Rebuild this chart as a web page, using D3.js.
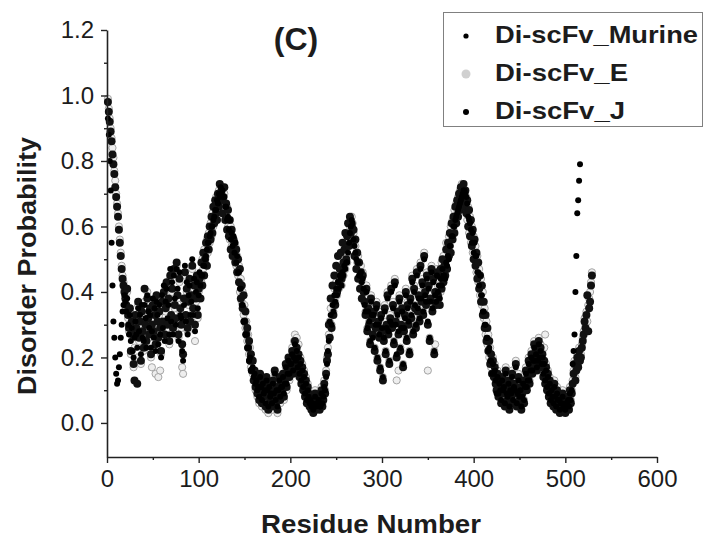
<!DOCTYPE html>
<html><head><meta charset="utf-8">
<script src="https://cdn.jsdelivr.net/npm/d3@7"></script>
<style>body{margin:0;background:#fff} svg{display:block}</style>
</head><body>
<svg id="c" width="705" height="538"></svg>
<script>
const seriesNames = ["Di-scFv_Murine", "Di-scFv_E", "Di-scFv_J"];
const xTicks = [0, 100, 200, 300, 400, 500, 600];
const xMinor = [50, 150, 250, 350, 450, 550];
const yTicks = [0, 0.2, 0.4, 0.6, 0.8, 1.0, 1.2];
const yMinor = [0.1, 0.3, 0.5, 0.7, 0.9, 1.1];

// Disorder probability per residue (residue number = index + 1)
const murine = [
.93,.88,.80,.71,.55,.42,.31,.26,.20,.15,
.12,.13,.17,.21,.26,.30,.34,.36,.39,.37,
.34,.38,.30,.27,.33,.25,.29,.22,.20,.26,
.31,.27,.23,.35,.28,.33,.21,.36,.26,.25,
.36,.32,.23,.39,.34,.29,.33,.23,.28,.38,
.26,.35,.22,.37,.33,.24,.36,.27,.20,.39,
.29,.42,.25,.37,.41,.32,.36,.27,.47,.31,
.43,.27,.45,.38,.30,.47,.41,.25,.46,.33,
.32,.22,.19,.36,.48,.31,.43,.27,.39,.42,
.33,.37,.50,.33,.44,.28,.40,.43,.35,.39,
.46,.42,.45,.45,.48,.48,.50,.51,.53,.55,
.55,.57,.58,.60,.60,.62,.63,.65,.65,.68,
.67,.70,.69,.72,.70,.71,.69,.69,.66,.66,
.62,.63,.59,.62,.56,.58,.54,.57,.52,.55,
.49,.51,.46,.46,.41,.41,.36,.36,.31,.31,
.27,.27,.23,.23,.19,.20,.16,.16,.17,.14,
.15,.12,.13,.10,.11,.08,.14,.11,.07,.12,
.09,.10,.06,.13,.10,.05,.11,.08,.09,.06,
.12,.09,.15,.07,.10,.05,.10,.13,.08,.11,
.11,.14,.09,.12,.17,.12,.15,.19,.15,.18,
.18,.21,.16,.20,.24,.19,.22,.17,.20,.15,
.18,.13,.16,.11,.14,.09,.12,.07,.10,.08,
.06,.07,.05,.06,.04,.05,.08,.05,.06,.06,
.07,.05,.05,.09,.06,.08,.11,.10,.14,.18,
.22,.25,.31,.33,.30,.36,.34,.39,.37,.41,
.39,.43,.41,.45,.44,.42,.46,.45,.48,.47,
.49,.49,.52,.55,.58,.60,.62,.61,.56,.54,
.52,.50,.49,.49,.45,.45,.46,.43,.44,.41,
.36,.34,.40,.29,.34,.31,.25,.37,.33,.26,
.33,.23,.30,.35,.20,.30,.27,.17,.32,.29,
.14,.26,.34,.22,.29,.38,.28,.19,.31,.40,
.30,.35,.25,.42,.30,.21,.33,.28,.37,.23,
.29,.34,.18,.29,.32,.39,.26,.35,.31,.22,
.37,.33,.43,.28,.40,.36,.30,.45,.35,.38,
.32,.47,.38,.42,.34,.50,.39,.37,.44,.31,
.41,.26,.37,.46,.35,.43,.22,.39,.37,.45,
.40,.42,.38,.44,.42,.47,.45,.45,.44,.49,
.48,.51,.50,.54,.54,.57,.57,.60,.60,.62,
.63,.64,.65,.66,.67,.68,.69,.70,.71,.71,
.70,.69,.67,.63,.62,.61,.59,.55,.58,.52,
.55,.51,.51,.46,.46,.42,.45,.39,.39,.34,
.34,.30,.30,.26,.26,.22,.23,.19,.19,.15,
.18,.15,.16,.13,.09,.14,.09,.12,.10,.07,
.13,.10,.11,.06,.15,.09,.08,.12,.05,.10,
.09,.14,.07,.11,.10,.17,.06,.09,.13,.08,
.10,.05,.08,.12,.07,.11,.15,.11,.13,.18,
.13,.16,.20,.16,.19,.23,.19,.21,.17,.19,
.24,.20,.22,.18,.20,.15,.18,.13,.16,.11,
.14,.09,.12,.07,.10,.08,.06,.11,.08,.05,
.09,.07,.07,.04,.06,.06,.08,.05,.05,.04,
.06,.06,.07,.05,.09,.07,.10,.18,.22,.27,
.40,.51,.64,.68,.74,.79
];

const seriesE = [
.99,.96,.93,.90,.87,.84,.81,.77,.74,.70,
.67,.64,.60,.56,.52,.48,.45,.43,.41,.39,
.35,.40,.32,.28,.34,.21,.30,.26,.17,.23,
.32,.28,.20,.36,.25,.30,.18,.33,.27,.22,
.37,.29,.24,.40,.31,.26,.34,.20,.17,.35,
.27,.32,.15,.38,.30,.14,.33,.16,.21,.36,
.30,.39,.26,.34,.42,.29,.37,.24,.44,.32,
.40,.28,.46,.35,.31,.48,.38,.26,.43,.34,
.29,.17,.15,.37,.45,.32,.40,.28,.36,.43,
.30,.38,.47,.34,.41,.25,.37,.44,.32,.40,
.41,.46,.43,.50,.47,.53,.49,.51,.56,.52,
.58,.55,.61,.57,.64,.60,.66,.63,.69,.65,
.67,.71,.65,.70,.68,.72,.66,.70,.65,.63,
.66,.60,.61,.56,.60,.54,.57,.52,.50,.54,
.48,.51,.45,.48,.40,.44,.37,.40,.33,.36,
.29,.31,.25,.27,.21,.23,.17,.19,.15,.16,
.15,.10,.13,.08,.11,.06,.14,.09,.05,.12,
.07,.10,.04,.13,.08,.03,.11,.06,.09,.04,
.12,.07,.15,.05,.10,.03,.08,.13,.06,.11,
.09,.14,.07,.12,.17,.10,.15,.19,.13,.18,
.20,.23,.18,.25,.27,.21,.26,.19,.24,.17,
.20,.13,.18,.11,.16,.09,.14,.07,.12,.10,
.06,.09,.05,.08,.04,.07,.10,.05,.08,.06,
.09,.05,.07,.11,.06,.08,.13,.10,.16,.20,
.23,.27,.31,.35,.30,.38,.34,.41,.37,.43,
.39,.45,.41,.47,.44,.42,.48,.45,.50,.47,
.51,.49,.54,.57,.60,.62,.63,.61,.58,.56,
.54,.52,.49,.51,.47,.45,.48,.43,.46,.41,
.38,.34,.42,.29,.36,.31,.25,.39,.33,.28,
.35,.23,.30,.37,.20,.32,.27,.17,.34,.29,
.14,.26,.36,.22,.31,.40,.28,.19,.33,.42,
.30,.37,.25,.44,.32,.13,.35,.16,.39,.23,
.31,.36,.18,.29,.34,.41,.26,.37,.31,.22,
.39,.33,.45,.28,.42,.36,.30,.47,.35,.40,
.32,.49,.38,.44,.34,.52,.41,.37,.46,.16,
.43,.26,.39,.48,.35,.45,.22,.24,.37,.47,
.42,.38,.46,.40,.49,.44,.51,.46,.48,.55,
.50,.53,.57,.54,.60,.57,.62,.59,.65,.62,
.67,.64,.69,.66,.71,.68,.73,.70,.68,.71,
.66,.69,.62,.66,.58,.63,.55,.60,.52,.57,
.50,.54,.46,.51,.43,.47,.39,.44,.36,.40,
.32,.35,.27,.31,.24,.27,.20,.23,.17,.19,
.20,.15,.18,.13,.11,.16,.09,.14,.12,.07,
.15,.10,.13,.06,.17,.11,.08,.14,.05,.12,
.09,.16,.07,.13,.10,.19,.06,.11,.15,.08,
.12,.05,.10,.14,.07,.13,.17,.11,.15,.20,
.13,.18,.22,.16,.21,.25,.19,.23,.17,.21,
.26,.20,.24,.18,.22,.15,.23,.27,.18,.11,
.16,.09,.14,.07,.12,.10,.06,.13,.08,.05,
.11,.07,.09,.04,.08,.06,.10,.05,.07,.04,
.08,.06,.09,.05,.11,.07,.10,.13,.16,.19,
.14,.17,.21,.18,.23,.20,.21,.24,.26,.28,
.32,.30,.34,.31,.36,.38,.40,.43,.46
];

const seriesJ = [
.98,.95,.92,.89,.86,.82,.79,.76,.72,.69,
.66,.63,.59,.55,.51,.47,.44,.42,.40,.38,
.36,.41,.33,.29,.35,.22,.31,.27,.18,.13,
.33,.29,.12,.37,.26,.31,.19,.34,.28,.23,
.41,.30,.25,.38,.32,.27,.35,.21,.30,.36,
.28,.33,.24,.39,.31,.26,.34,.29,.22,.37,
.31,.40,.27,.35,.43,.30,.38,.25,.45,.33,
.41,.29,.47,.36,.32,.49,.39,.27,.44,.35,
.30,.24,.21,.38,.46,.33,.41,.29,.37,.44,
.31,.39,.48,.35,.42,.30,.38,.45,.33,.41,
.44,.38,.49,.42,.52,.45,.50,.55,.48,.57,
.53,.60,.56,.63,.58,.66,.61,.68,.64,.62,
.70,.66,.73,.68,.71,.64,.69,.72,.62,.67,
.59,.65,.57,.62,.53,.59,.51,.56,.55,.49,
.53,.46,.50,.43,.47,.38,.42,.35,.39,.31,
.34,.27,.29,.23,.25,.19,.21,.16,.19,.13,
.16,.11,.14,.09,.12,.07,.15,.10,.06,.13,
.08,.11,.05,.14,.09,.04,.12,.07,.10,.05,
.13,.08,.16,.06,.11,.04,.09,.14,.07,.12,
.10,.15,.08,.13,.18,.11,.16,.20,.14,.19,
.17,.22,.15,.21,.25,.18,.23,.16,.21,.14,
.19,.12,.17,.10,.15,.08,.13,.06,.11,.09,
.05,.08,.04,.07,.03,.06,.09,.04,.07,.05,
.08,.04,.06,.10,.05,.07,.12,.09,.15,.19,
.21,.30,.26,.38,.29,.42,.33,.45,.36,.48,
.40,.51,.43,.47,.52,.44,.55,.49,.53,.58,
.50,.57,.61,.54,.63,.58,.60,.55,.59,.51,
.56,.47,.52,.44,.49,.41,.46,.38,.45,.40,
.37,.33,.41,.28,.35,.30,.24,.38,.32,.27,
.34,.22,.29,.36,.19,.31,.26,.16,.33,.28,
.13,.25,.35,.21,.30,.39,.27,.18,.32,.41,
.29,.36,.24,.43,.31,.20,.34,.27,.38,.22,
.30,.35,.17,.28,.33,.40,.25,.36,.30,.21,
.38,.32,.44,.27,.41,.35,.29,.46,.34,.39,
.31,.48,.37,.43,.33,.51,.40,.36,.45,.30,
.42,.25,.38,.47,.34,.44,.21,.40,.36,.46,
.39,.45,.36,.47,.41,.50,.43,.48,.45,.53,
.47,.55,.51,.58,.52,.61,.56,.63,.58,.66,
.61,.68,.63,.70,.65,.72,.67,.69,.73,.66,
.71,.64,.68,.60,.65,.57,.62,.54,.59,.50,
.56,.48,.52,.44,.49,.41,.45,.37,.42,.33,
.37,.29,.33,.25,.29,.22,.25,.18,.21,.15,
.19,.14,.17,.12,.10,.15,.08,.13,.11,.06,
.14,.09,.12,.05,.16,.10,.07,.13,.04,.11,
.08,.15,.06,.12,.09,.18,.05,.10,.14,.07,
.11,.04,.09,.13,.06,.12,.16,.10,.14,.19,
.12,.17,.21,.15,.20,.24,.18,.22,.16,.20,
.25,.19,.23,.17,.21,.14,.19,.12,.17,.10,
.15,.08,.13,.06,.11,.09,.05,.12,.07,.04,
.10,.06,.08,.03,.07,.05,.09,.04,.06,.03,
.07,.05,.08,.04,.10,.06,.09,.12,.15,.18,
.13,.16,.20,.17,.22,.19,.20,.23,.25,.27,
.31,.29,.33,.39,.28,.35,.37,.42,.45
];

const svg = d3.select("#c");
const FONT = "'Liberation Sans', Arial, Helvetica, sans-serif";
const x = d3.scaleLinear().domain([0, 600]).range([107, 657]);
const y = d3.scaleLinear().domain([-0.104, 1.2]).range([457, 30]);
const toPts = arr => arr.map((v, i) => ({ r: i + 1, v }));

// points: E beneath, then J, then Murine
svg.append("g").selectAll("circle").data(toPts(seriesE)).join("circle")
  .attr("cx", d => x(d.r)).attr("cy", d => y(d.v)).attr("r", 3.6)
  .attr("fill", "#eeeeee").attr("stroke", "#9c9c9c").attr("stroke-width", 0.9);
svg.append("g").selectAll("circle").data(toPts(seriesJ)).join("circle")
  .attr("cx", d => x(d.r)).attr("cy", d => y(d.v)).attr("r", 4.0)
  .attr("fill", "#111");
svg.append("g").selectAll("circle").data(toPts(murine)).join("circle")
  .attr("cx", d => x(d.r)).attr("cy", d => y(d.v)).attr("r", 3.0)
  .attr("fill", "#000");

// axes
svg.append("g").attr("transform", "translate(0,457)")
  .call(d3.axisBottom(x).tickValues(xTicks).tickSize(6).tickSizeOuter(0).tickPadding(7).tickFormat(d3.format("d")));
svg.append("g").attr("transform", "translate(0,457)")
  .call(d3.axisBottom(x).tickValues(xMinor).tickSize(3).tickFormat(""))
  .select(".domain").remove();
svg.append("g").attr("transform", "translate(107,0)")
  .call(d3.axisLeft(y).tickValues(yTicks).tickSize(6).tickSizeOuter(0).tickPadding(7).tickFormat(d3.format(".1f")));
svg.append("g").attr("transform", "translate(107,0)")
  .call(d3.axisLeft(y).tickValues(yMinor).tickSize(3).tickFormat(""))
  .select(".domain").remove();
svg.selectAll(".domain").attr("stroke", "#222").attr("stroke-width", 1.6);
svg.selectAll(".tick line").attr("stroke", "#222").attr("stroke-width", 1.4);
svg.selectAll(".tick text").attr("font-family", FONT).attr("font-size", 24).attr("fill", "#1c1c1c");

// axis titles
svg.append("text").attr("x", 371).attr("y", 533).attr("text-anchor", "middle")
  .attr("font-family", FONT).attr("font-weight", "bold").attr("font-size", 25).attr("fill", "#1c1c1c")
  .attr("textLength", 220).attr("lengthAdjust", "spacingAndGlyphs")
  .text("Residue Number");
svg.append("text").attr("transform", "translate(36,266) rotate(-90)").attr("text-anchor", "middle")
  .attr("font-family", FONT).attr("font-weight", "bold").attr("font-size", 25).attr("fill", "#1c1c1c")
  .attr("textLength", 258).attr("lengthAdjust", "spacingAndGlyphs")
  .text("Disorder Probability");

// panel label
svg.append("text").attr("x", 296).attr("y", 50).attr("text-anchor", "middle")
  .attr("font-family", FONT).attr("font-weight", "bold").attr("font-size", 32).attr("fill", "#1c1c1c")
  .text("(C)");

// legend
const lg = svg.append("g");
lg.append("rect").attr("x", 443.5).attr("y", 12.5).attr("width", 259).attr("height", 114)
  .attr("fill", "#fff").attr("stroke", "#808080").attr("stroke-width", 1);
const legendStyle = [
  { r: 2.6, fill: "#000", len: 203 },
  { r: 4.5, fill: "#d0d0d0", len: 133 },
  { r: 3.0, fill: "#000", len: 130 }
];
seriesNames.forEach((name, i) => {
  const cy = 36 + i * 38;
  lg.append("circle").attr("cx", 466).attr("cy", cy).attr("r", legendStyle[i].r)
    .attr("fill", legendStyle[i].fill);
  lg.append("text").attr("x", 495).attr("y", cy + 7)
    .attr("font-family", FONT).attr("font-weight", "bold").attr("font-size", 24).attr("fill", "#1c1c1c")
    .attr("textLength", legendStyle[i].len).attr("lengthAdjust", "spacingAndGlyphs")
    .text(name);
});
</script>
</body></html>
